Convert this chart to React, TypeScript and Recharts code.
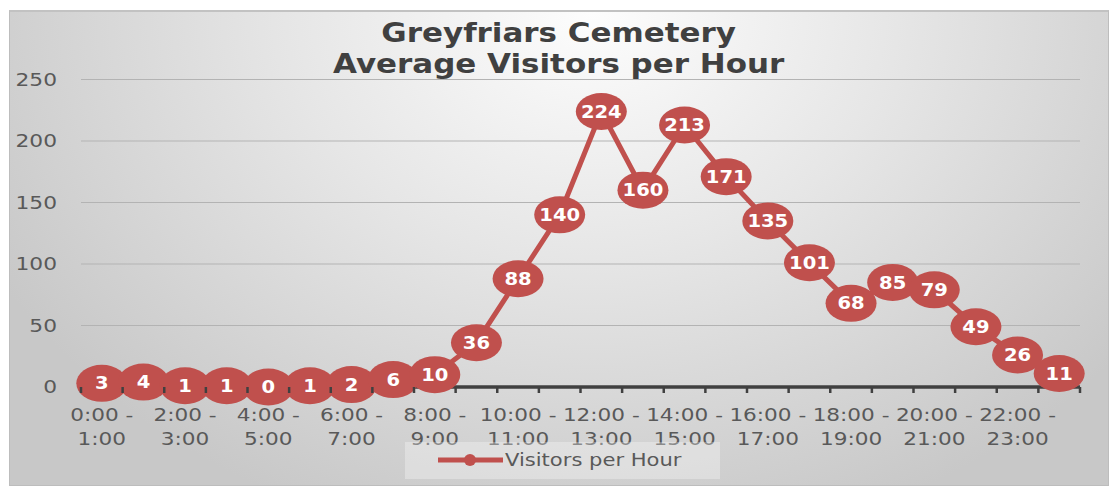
import { LineChart, Line, XAxis, YAxis, CartesianGrid, Legend } from 'recharts';

const hours = [
  '0:00 - 1:00', '1:00 - 2:00', '2:00 - 3:00', '3:00 - 4:00', '4:00 - 5:00', '5:00 - 6:00',
  '6:00 - 7:00', '7:00 - 8:00', '8:00 - 9:00', '9:00 - 10:00', '10:00 - 11:00', '11:00 - 12:00',
  '12:00 - 13:00', '13:00 - 14:00', '14:00 - 15:00', '15:00 - 16:00', '16:00 - 17:00', '17:00 - 18:00',
  '18:00 - 19:00', '19:00 - 20:00', '20:00 - 21:00', '21:00 - 22:00', '22:00 - 23:00', '23:00 - 0:00',
];
const visitors = [3, 4, 1, 1, 0, 1, 2, 6, 10, 36, 88, 140, 224, 160, 213, 171, 135, 101, 68, 85, 79, 49, 26, 11];
const yTicks = [0, 50, 100, 150, 200, 250];

const data = hours.map((hour, i) => ({ hour, visitors: visitors[i] }));

const RED = '#C0504D';
const GREY = '#595959';
const FONT = '"DejaVu Sans", Verdana, sans-serif';
const CHART_W = 1098;
const CHART_H = 474;
const PLOT_LEFT = 71;
const PLOT_RIGHT = 28;
const BAND = (CHART_W - PLOT_LEFT - PLOT_RIGHT) / hours.length;

const XTick = (props: any) => {
  const { x, y, payload, index } = props;
  const [from, to] = String(payload.value).split(' - ');
  const half = BAND / 2;
  return (
    <g>
      <line x1={x - half} x2={x - half} y1={y} y2={y + 6} stroke="#404040" strokeWidth={2.5} />
      {index === hours.length - 1 && (
        <line x1={x + half} x2={x + half} y1={y} y2={y + 6} stroke="#404040" strokeWidth={2.5} />
      )}
      {index % 2 === 0 && (
        <text transform={`translate(${x},${y}) scale(1.27,1)`} textAnchor="middle" fontSize={17} fontFamily={FONT} fill={GREY}>
          <tspan x={0} y={34}>{`${from} -`}</tspan>
          <tspan x={0} y={58}>{to}</tspan>
        </text>
      )}
    </g>
  );
};

const YTick = (props: any) => {
  const { x, y, payload } = props;
  return (
    <text transform={`translate(${x},${y}) scale(1.28,1)`} textAnchor="end" dy="0.36em" fontSize={17} fontFamily={FONT} fill={GREY}>
      {payload.value}
    </text>
  );
};

const BubbleDot = (props: any) => {
  const { cx, cy, payload, index } = props;
  return (
    <g key={`dot-${index}`}>
      <ellipse cx={cx} cy={cy} rx={25.5} ry={18.5} fill={RED} />
      <text transform={`translate(${cx},${cy}) scale(1.15,1)`} textAnchor="middle" dy="0.36em" fontSize={17} fontWeight="bold" fontFamily={FONT} fill="#ffffff">
        {payload.visitors}
      </text>
    </g>
  );
};

const LegendBox = () => (
  <div style={{ width: 315, height: 37, background: 'rgba(255,255,255,0.3)' }}>
    <svg width={315} height={37}>
      <line x1={33} x2={98} y1={18} y2={18} stroke={RED} strokeWidth={5} />
      <circle cx={65} cy={18} r={6} fill={RED} />
      <text transform="translate(100,18) scale(1.24,1)" dy="0.36em" fontSize={17} fontFamily={FONT} fill={GREY}>
        Visitors per Hour
      </text>
    </svg>
  </div>
);

const App = () => {
  return (
    <div
      style={{
        position: 'absolute',
        left: 9,
        top: 10,
        width: 1100,
        height: 476,
        boxSizing: 'border-box',
        border: '1px solid #bdbdbd',
        borderTop: '2px solid #c2c2c2',
        background: 'radial-gradient(ellipse 62% 115% at 53% 0%, #fdfdfd 0%, #e6e6e6 45%, #c8c8c8 100%)',
        overflow: 'hidden',
      }}
    >
      <LineChart width={CHART_W} height={CHART_H} data={data} margin={{ top: 67.5, right: PLOT_RIGHT, left: 0, bottom: 0 }}>
        <CartesianGrid vertical={false} stroke="#b3b3b3" strokeWidth={1.2} />
        <XAxis
          dataKey="hour"
          height={99}
          interval={0}
          padding={{ left: BAND / 2, right: BAND / 2 }}
          tickLine={false}
          tickSize={0}
          tickMargin={0}
          tick={XTick}
          axisLine={{ stroke: '#404040', strokeWidth: 3.5 }}
        />
        <YAxis
          width={PLOT_LEFT}
          domain={[0, 250]}
          ticks={yTicks}
          axisLine={false}
          tickLine={false}
          tickSize={0}
          tickMargin={24}
          tick={YTick}
        />
        <Legend
          layout="horizontal"
          verticalAlign="middle"
          align="center"
          content={LegendBox}
          wrapperStyle={{ left: 395, top: 430, width: 315, height: 37 }}
        />
        <Line
          type="linear"
          dataKey="visitors"
          name="Visitors per Hour"
          stroke={RED}
          strokeWidth={5}
          dot={BubbleDot}
          activeDot={false}
          isAnimationActive={false}
        />
      </LineChart>
      <div
        style={{
          position: 'absolute',
          left: 0,
          top: 5.5,
          width: CHART_W,
          textAlign: 'center',
          fontFamily: FONT,
          fontWeight: 'bold',
          fontSize: 26,
          lineHeight: '31px',
          color: '#404040',
          transform: 'scaleX(1.19)',
          transformOrigin: '551px 0',
          pointerEvents: 'none',
        }}
      >
        Greyfriars Cemetery
        <br />
        Average Visitors per Hour
      </div>
    </div>
  );
};

export default App;
